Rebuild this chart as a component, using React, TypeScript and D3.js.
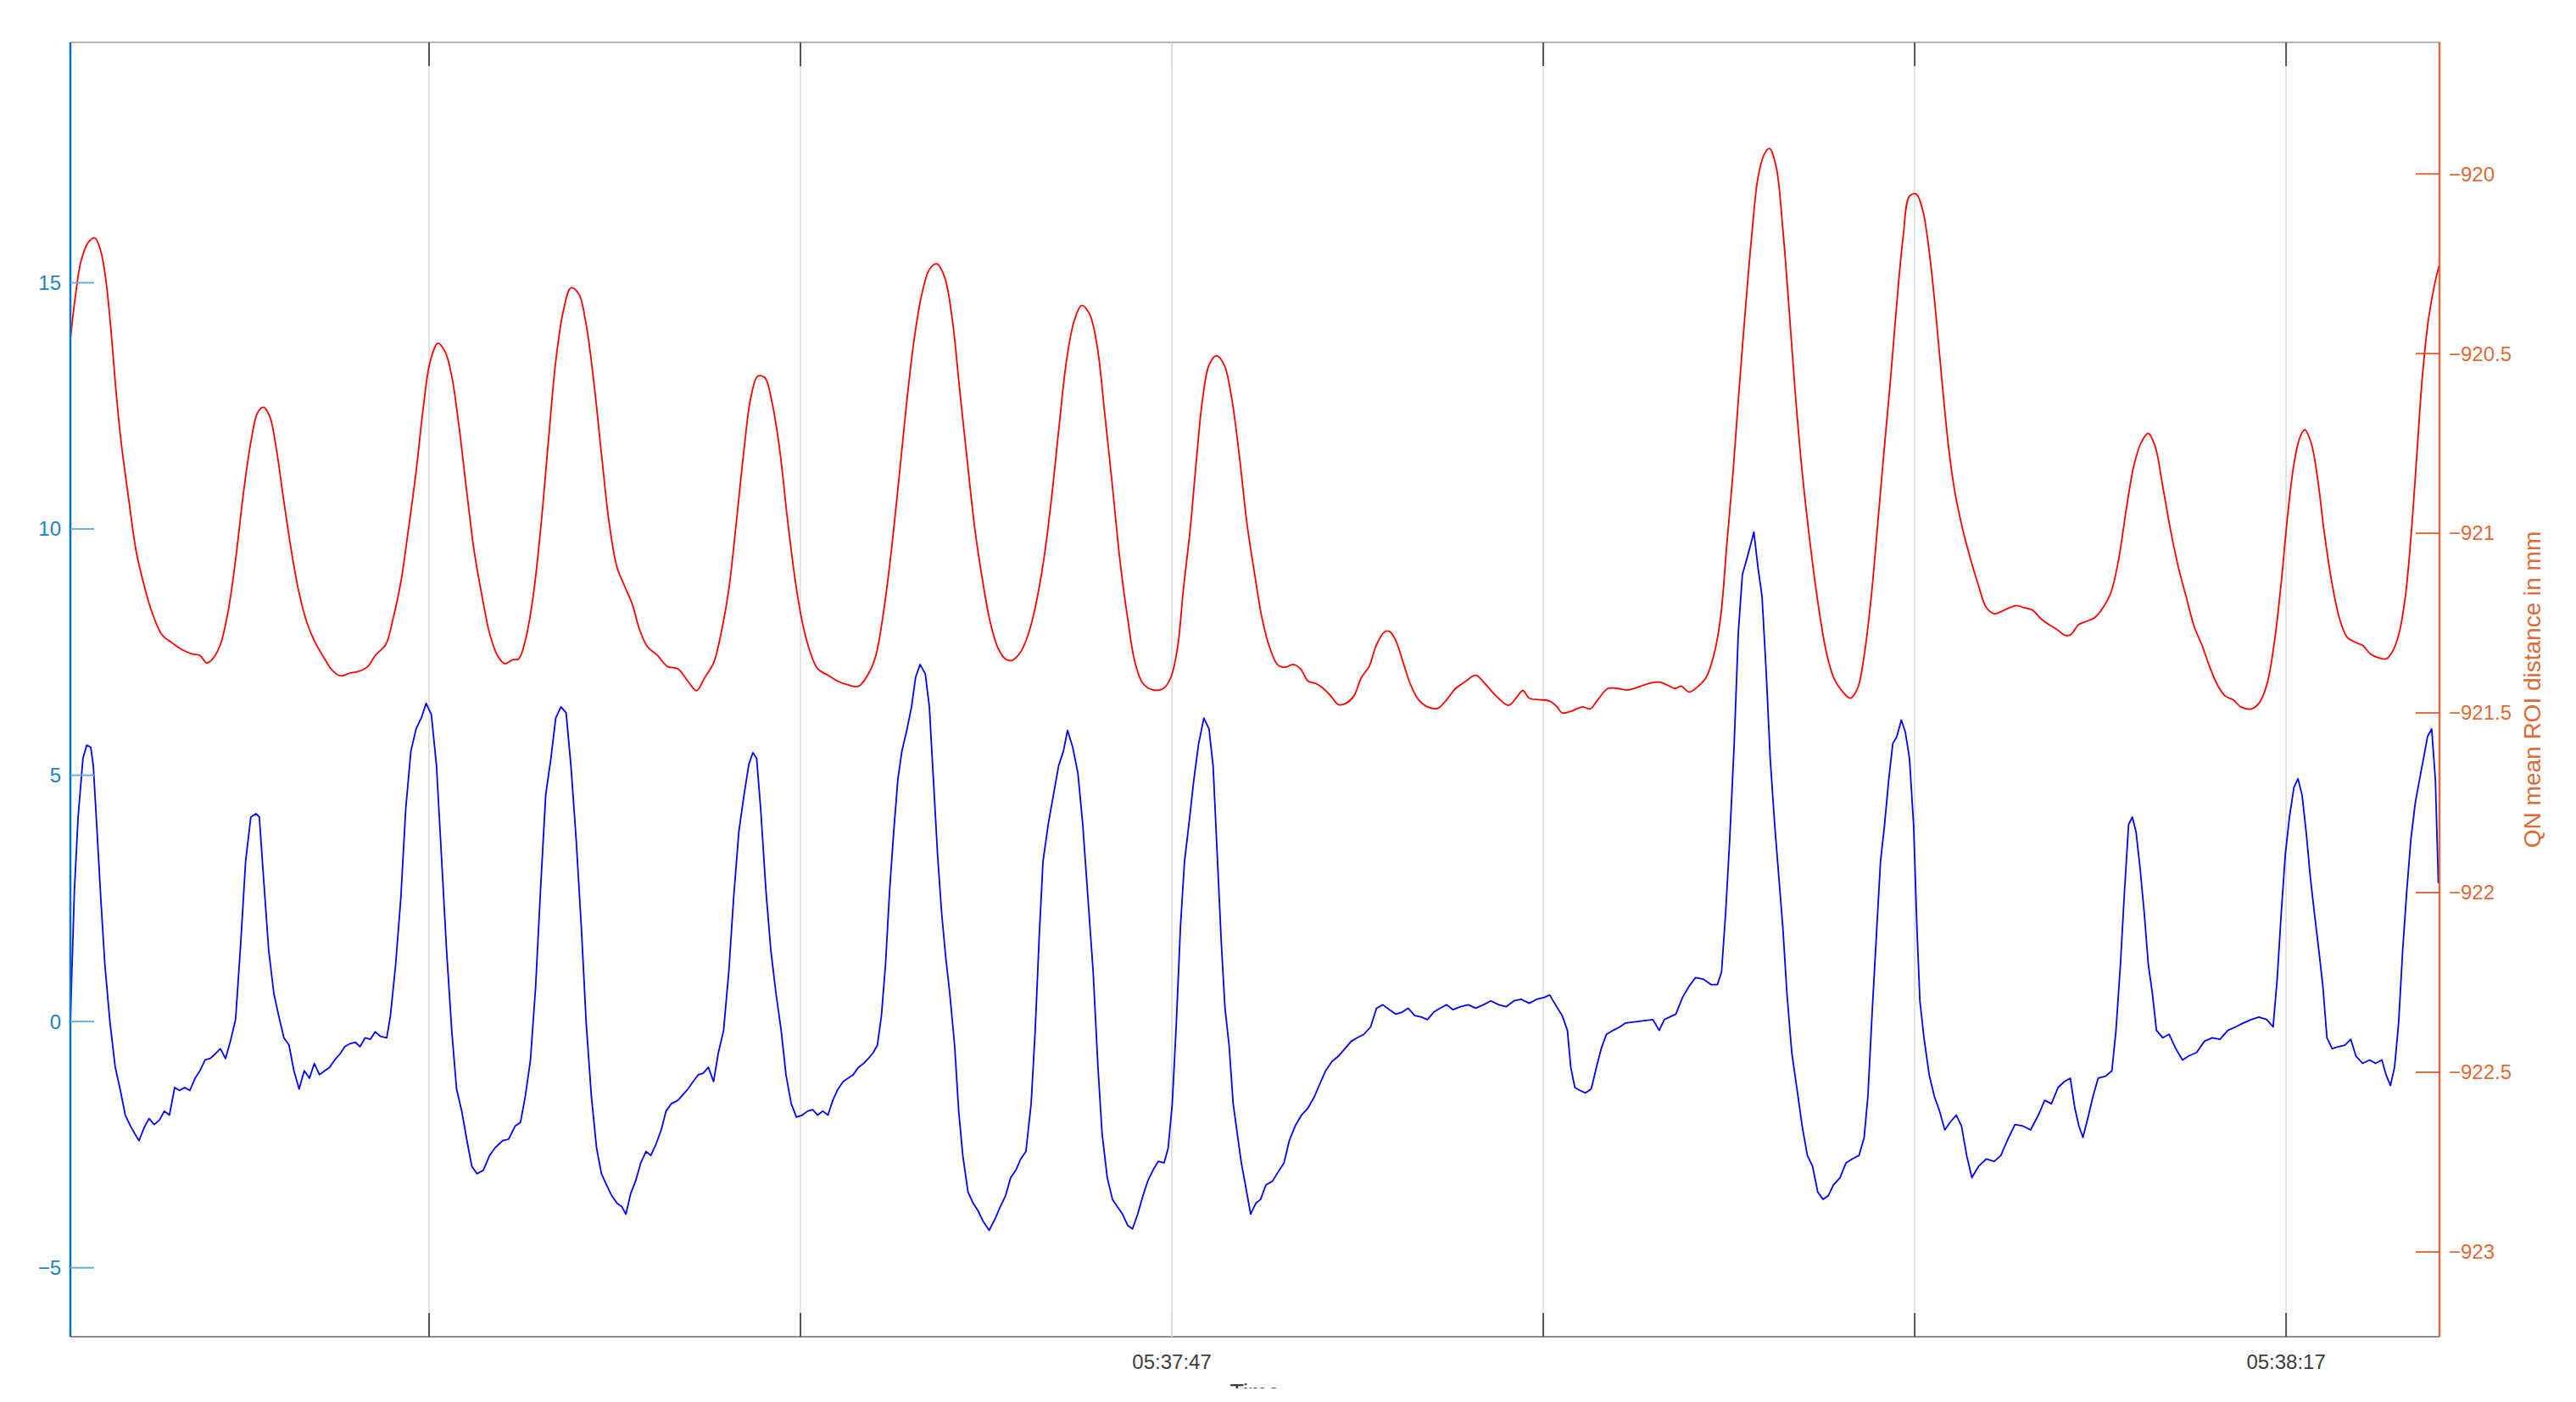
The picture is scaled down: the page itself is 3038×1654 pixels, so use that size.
import React from "react";
import * as d3 from "d3";

// time in seconds after 05:37:17
const BASE_TIME = new Date(2000, 0, 1, 5, 37, 17).getTime();
const xDomainSeconds = [0.342, 64.13];
const leftDomain = [-6.4, 19.88];
const rightDomain = [-923.236, -919.634];
const leftTicks = [-5, 0, 5, 10, 15];
const rightTicks = [-923, -922.5, -922, -921.5, -921, -920.5, -920];
const xTickSeconds = [10, 20, 30, 40, 50, 60];
const xTickLabels = ["", "", "05:37:47", "", "", "05:38:17"];
const rightAxisLabel = "QN mean ROI distance in mm";
const xAxisLabel = "Time";

// red series (right axis): [seconds, mm]
const redSeries: [number, number][] = [
  [0.34, -920.461], [0.48, -920.338], [0.62, -920.246], [0.82, -920.191], [1.0, -920.178],
  [1.16, -920.215], [1.3, -920.297], [1.44, -920.44], [1.57, -920.604], [1.71, -920.747],
  [1.92, -920.911], [2.12, -921.054], [2.33, -921.146], [2.53, -921.217], [2.81, -921.283],
  [3.08, -921.305], [3.35, -921.324], [3.63, -921.336], [3.83, -921.34], [4.01, -921.361],
  [4.17, -921.35], [4.38, -921.31], [4.59, -921.217], [4.79, -921.074], [5.0, -920.89],
  [5.2, -920.747], [5.38, -920.665], [5.54, -920.649], [5.71, -920.675], [5.89, -920.767],
  [6.09, -920.911], [6.3, -921.054], [6.5, -921.166], [6.71, -921.248], [6.91, -921.299],
  [7.19, -921.35], [7.39, -921.381], [7.62, -921.397], [7.87, -921.389], [8.08, -921.385],
  [8.35, -921.371], [8.55, -921.34], [8.83, -921.31], [9.03, -921.238], [9.24, -921.136],
  [9.44, -920.992], [9.65, -920.829], [9.85, -920.645], [10.03, -920.522], [10.24, -920.471],
  [10.44, -920.497], [10.61, -920.563], [10.81, -920.706], [11.02, -920.89], [11.22, -921.054],
  [11.43, -921.177], [11.63, -921.279], [11.84, -921.34], [12.04, -921.363], [12.25, -921.352],
  [12.41, -921.35], [12.59, -921.299], [12.8, -921.177], [13.0, -920.992], [13.21, -920.747],
  [13.41, -920.522], [13.62, -920.379], [13.82, -920.317], [14.03, -920.334], [14.23, -920.42],
  [14.44, -920.583], [14.65, -920.788], [14.85, -920.972], [15.06, -921.095], [15.26, -921.146],
  [15.47, -921.197], [15.67, -921.269], [15.88, -921.316], [16.15, -921.34], [16.42, -921.371],
  [16.7, -921.377], [16.97, -921.412], [17.2, -921.438], [17.42, -921.402], [17.66, -921.361],
  [17.86, -921.279], [18.07, -921.156], [18.27, -920.972], [18.48, -920.767], [18.66, -920.624],
  [18.85, -920.563], [19.04, -920.567], [19.23, -920.634], [19.44, -920.767], [19.64, -920.952],
  [19.85, -921.125], [20.05, -921.248], [20.26, -921.33], [20.46, -921.377], [20.74, -921.395],
  [21.01, -921.412], [21.28, -921.422], [21.56, -921.426], [21.83, -921.391], [22.03, -921.34],
  [22.24, -921.217], [22.44, -921.054], [22.65, -920.849], [22.85, -920.645], [23.06, -920.461],
  [23.26, -920.338], [23.47, -920.266], [23.67, -920.25], [23.88, -920.287], [24.08, -920.399],
  [24.29, -920.604], [24.5, -920.808], [24.7, -920.992], [24.91, -921.136], [25.11, -921.248],
  [25.32, -921.32], [25.52, -921.35], [25.69, -921.354], [25.93, -921.33], [26.14, -921.279],
  [26.34, -921.197], [26.55, -921.074], [26.75, -920.911], [26.96, -920.706], [27.16, -920.522],
  [27.37, -920.409], [27.57, -920.366], [27.78, -920.389], [27.99, -920.481], [28.19, -920.665],
  [28.4, -920.87], [28.6, -921.074], [28.81, -921.238], [29.01, -921.361], [29.22, -921.418],
  [29.49, -921.436], [29.77, -921.432], [29.97, -921.402], [30.15, -921.32], [30.31, -921.156],
  [30.49, -920.992], [30.65, -920.808], [30.83, -920.624], [31.0, -920.532], [31.2, -920.506],
  [31.41, -920.532], [31.61, -920.624], [31.82, -920.788], [32.02, -920.972], [32.23, -921.115],
  [32.43, -921.238], [32.64, -921.32], [32.84, -921.365], [33.05, -921.373], [33.26, -921.365],
  [33.46, -921.377], [33.67, -921.412], [33.87, -921.418], [34.08, -921.432], [34.28, -921.453],
  [34.49, -921.477], [34.69, -921.473], [34.9, -921.453], [35.1, -921.402], [35.31, -921.371],
  [35.51, -921.31], [35.72, -921.275], [35.86, -921.273], [36.03, -921.299], [36.23, -921.361],
  [36.43, -921.422], [36.64, -921.463], [36.88, -921.483], [37.16, -921.487], [37.4, -921.463],
  [37.64, -921.432], [37.91, -921.412], [38.18, -921.395], [38.46, -921.422], [38.73, -921.453],
  [39.07, -921.479], [39.28, -921.457], [39.45, -921.438], [39.62, -921.459], [39.89, -921.463],
  [40.17, -921.467], [40.37, -921.483], [40.51, -921.5], [40.78, -921.494], [41.06, -921.483],
  [41.26, -921.489], [41.47, -921.463], [41.74, -921.432], [42.01, -921.432], [42.29, -921.436],
  [42.84, -921.418], [43.12, -921.414], [43.33, -921.422], [43.54, -921.432], [43.71, -921.426],
  [43.93, -921.442], [44.17, -921.426], [44.38, -921.402], [44.59, -921.34], [44.77, -921.238],
  [44.94, -921.033], [45.11, -920.829], [45.27, -920.604], [45.44, -920.379], [45.61, -920.174],
  [45.78, -920.011], [45.95, -919.945], [46.09, -919.929], [46.27, -919.98], [46.45, -920.154],
  [46.62, -920.379], [46.78, -920.604], [46.95, -920.808], [47.12, -920.972], [47.29, -921.115],
  [47.46, -921.238], [47.64, -921.34], [47.82, -921.402], [48.02, -921.436], [48.27, -921.459],
  [48.46, -921.432], [48.64, -921.34], [48.83, -921.177], [48.99, -920.992], [49.16, -920.788],
  [49.34, -920.583], [49.52, -920.358], [49.69, -920.174], [49.86, -920.062], [50.04, -920.056],
  [50.22, -920.103], [50.39, -920.215], [50.56, -920.379], [50.74, -920.583], [50.92, -920.767],
  [51.09, -920.89], [51.3, -920.992], [51.51, -921.074], [51.72, -921.146], [51.93, -921.207],
  [52.14, -921.224], [52.35, -921.217], [52.56, -921.207], [52.74, -921.201], [52.94, -921.207],
  [53.16, -921.213], [53.4, -921.238], [53.61, -921.254], [53.82, -921.267], [54.03, -921.283],
  [54.19, -921.283], [54.42, -921.254], [54.66, -921.244], [54.86, -921.234], [55.07, -921.207],
  [55.28, -921.166], [55.49, -921.074], [55.7, -920.931], [55.91, -920.808], [56.12, -920.743],
  [56.29, -920.722], [56.47, -920.757], [56.68, -920.87], [56.89, -920.992], [57.1, -921.095],
  [57.31, -921.177], [57.52, -921.258], [57.73, -921.31], [57.94, -921.371], [58.15, -921.422],
  [58.36, -921.453], [58.57, -921.463], [58.78, -921.483], [59.06, -921.489], [59.27, -921.473],
  [59.48, -921.422], [59.69, -921.299], [59.87, -921.136], [60.04, -920.952], [60.21, -920.808],
  [60.36, -920.737], [60.5, -920.712], [60.67, -920.747], [60.85, -920.849], [61.02, -920.992],
  [61.23, -921.136], [61.44, -921.238], [61.64, -921.289], [61.85, -921.303], [62.06, -921.312],
  [62.27, -921.336], [62.48, -921.346], [62.69, -921.35], [62.86, -921.33], [63.04, -921.279],
  [63.21, -921.177], [63.36, -921.013], [63.53, -920.767], [63.67, -920.563], [63.84, -920.399],
  [64.02, -920.297], [64.12, -920.256],
];

// blue series (left axis): [seconds, value]
const blueSeries: [number, number][] = [
  [0.34, -0.03], [0.45, 2.66], [0.55, 4.15], [0.68, 5.34], [0.78, 5.61], [0.89, 5.57],
  [0.96, 5.19], [1.05, 4.0], [1.16, 2.51], [1.27, 1.16], [1.41, -0.03], [1.55, -0.93],
  [1.68, -1.37], [1.82, -1.9], [1.96, -2.12], [2.07, -2.27], [2.19, -2.42], [2.33, -2.15],
  [2.46, -1.97], [2.6, -2.09], [2.74, -2.0], [2.87, -1.82], [3.01, -1.9], [3.15, -1.34],
  [3.28, -1.4], [3.42, -1.34], [3.56, -1.4], [3.7, -1.15], [3.83, -1.0], [3.97, -0.78],
  [4.11, -0.75], [4.24, -0.66], [4.38, -0.55], [4.52, -0.75], [4.65, -0.4], [4.79, 0.04],
  [4.93, 1.61], [5.06, 3.25], [5.2, 4.15], [5.34, 4.22], [5.43, 4.15], [5.54, 2.95],
  [5.68, 1.46], [5.82, 0.57], [5.95, 0.12], [6.09, -0.33], [6.23, -0.48], [6.36, -1.0],
  [6.5, -1.37], [6.64, -1.0], [6.78, -1.15], [6.91, -0.85], [7.05, -1.08], [7.19, -1.0],
  [7.32, -0.93], [7.46, -0.78], [7.6, -0.66], [7.73, -0.51], [7.87, -0.45], [8.01, -0.42],
  [8.14, -0.51], [8.28, -0.33], [8.42, -0.36], [8.55, -0.21], [8.69, -0.3], [8.86, -0.33],
  [8.96, 0.12], [9.1, 1.16], [9.24, 2.51], [9.37, 4.3], [9.51, 5.49], [9.65, 5.94],
  [9.79, 6.16], [9.92, 6.46], [10.06, 6.24], [10.2, 5.19], [10.33, 3.4], [10.47, 1.46],
  [10.61, -0.18], [10.74, -1.37], [10.88, -1.82], [11.02, -2.42], [11.15, -2.94], [11.29, -3.09],
  [11.46, -3.02], [11.63, -2.72], [11.77, -2.57], [11.98, -2.42], [12.14, -2.39], [12.32, -2.12],
  [12.46, -2.05], [12.59, -1.52], [12.73, -0.78], [12.87, 0.72], [13.0, 2.66], [13.14, 4.6],
  [13.28, 5.34], [13.41, 6.16], [13.55, 6.39], [13.69, 6.27], [13.82, 5.19], [13.96, 3.7],
  [14.1, 1.91], [14.23, -0.03], [14.37, -1.52], [14.51, -2.57], [14.64, -3.09], [14.78, -3.32],
  [14.92, -3.54], [15.06, -3.69], [15.19, -3.76], [15.3, -3.91], [15.43, -3.49], [15.56, -3.24],
  [15.7, -2.87], [15.84, -2.64], [15.97, -2.72], [16.11, -2.49], [16.25, -2.2], [16.38, -1.82],
  [16.52, -1.67], [16.7, -1.6], [16.83, -1.49], [16.97, -1.37], [17.11, -1.22], [17.25, -1.08],
  [17.38, -1.05], [17.52, -0.93], [17.66, -1.22], [17.79, -0.63], [17.93, -0.18], [18.07, 1.01],
  [18.2, 2.51], [18.34, 3.85], [18.48, 4.6], [18.61, 5.22], [18.72, 5.46], [18.82, 5.34],
  [18.93, 4.3], [19.07, 2.66], [19.2, 1.46], [19.34, 0.57], [19.48, -0.18], [19.61, -1.08],
  [19.75, -1.67], [19.89, -1.94], [20.05, -1.9], [20.19, -1.82], [20.33, -1.79], [20.46, -1.9],
  [20.6, -1.82], [20.74, -1.9], [20.87, -1.6], [21.01, -1.37], [21.15, -1.22], [21.28, -1.15],
  [21.42, -1.08], [21.56, -0.93], [21.7, -0.85], [21.83, -0.75], [21.96, -0.63], [22.07, -0.48],
  [22.18, 0.12], [22.29, 1.16], [22.4, 2.66], [22.51, 3.85], [22.62, 4.9], [22.73, 5.49],
  [22.87, 5.94], [22.99, 6.39], [23.1, 6.99], [23.22, 7.25], [23.36, 7.06], [23.47, 6.39],
  [23.58, 4.9], [23.69, 3.4], [23.8, 2.21], [23.91, 1.31], [24.02, 0.57], [24.15, -0.48],
  [24.26, -1.82], [24.37, -2.72], [24.51, -3.46], [24.65, -3.69], [24.78, -3.84], [24.92, -4.06],
  [25.08, -4.24], [25.25, -3.99], [25.38, -3.76], [25.52, -3.54], [25.66, -3.17], [25.8, -3.02],
  [25.93, -2.79], [26.07, -2.64], [26.21, -1.67], [26.32, -0.18], [26.43, 1.76], [26.53, 3.25],
  [26.67, 4.0], [26.81, 4.6], [26.95, 5.19], [27.08, 5.49], [27.19, 5.91], [27.33, 5.57],
  [27.47, 5.04], [27.6, 4.0], [27.74, 2.51], [27.88, 1.01], [28.01, -0.93], [28.12, -2.27],
  [28.26, -3.17], [28.4, -3.61], [28.53, -3.76], [28.67, -3.91], [28.81, -4.14], [28.94, -4.21],
  [29.08, -3.91], [29.22, -3.54], [29.35, -3.24], [29.49, -3.02], [29.63, -2.84], [29.79, -2.87],
  [29.9, -2.57], [30.01, -1.67], [30.12, -0.03], [30.23, 1.91], [30.34, 3.25], [30.48, 4.15],
  [30.59, 4.9], [30.72, 5.64], [30.86, 6.16], [31.0, 5.94], [31.11, 5.19], [31.22, 3.4],
  [31.33, 1.61], [31.43, 0.27], [31.54, -0.48], [31.65, -1.67], [31.76, -2.27], [31.87, -2.87],
  [31.98, -3.32], [32.12, -3.91], [32.26, -3.69], [32.39, -3.61], [32.53, -3.32], [32.71, -3.24],
  [32.89, -3.02], [33.02, -2.87], [33.16, -2.42], [33.32, -2.12], [33.49, -1.9], [33.67, -1.75],
  [33.84, -1.52], [34.01, -1.22], [34.14, -1.0], [34.31, -0.81], [34.49, -0.7], [34.66, -0.55],
  [34.83, -0.4], [34.99, -0.33], [35.17, -0.26], [35.35, -0.11], [35.51, 0.27], [35.68, 0.34],
  [35.86, 0.24], [36.03, 0.15], [36.2, 0.19], [36.36, 0.27], [36.54, 0.12], [36.72, 0.09],
  [36.88, 0.04], [37.05, 0.19], [37.22, 0.27], [37.4, 0.34], [37.57, 0.24], [37.77, 0.3],
  [37.98, 0.34], [38.18, 0.27], [38.39, 0.34], [38.59, 0.42], [38.8, 0.34], [39.0, 0.3],
  [39.21, 0.42], [39.41, 0.45], [39.62, 0.37], [39.82, 0.45], [40.03, 0.49], [40.17, 0.54],
  [40.33, 0.34], [40.51, 0.12], [40.65, -0.18], [40.74, -0.93], [40.85, -1.34], [40.99, -1.4],
  [41.13, -1.45], [41.29, -1.37], [41.43, -0.93], [41.56, -0.55], [41.7, -0.26], [41.88, -0.18],
  [42.06, -0.11], [42.22, -0.03], [42.95, 0.04], [43.12, -0.18], [43.26, 0.04], [43.4, 0.09],
  [43.57, 0.15], [43.75, 0.49], [43.93, 0.72], [44.1, 0.89], [44.31, 0.86], [44.52, 0.75],
  [44.69, 0.75], [44.8, 1.01], [44.91, 2.21], [45.02, 3.7], [45.14, 5.64], [45.25, 7.88],
  [45.36, 9.07], [45.47, 9.37], [45.58, 9.67], [45.67, 9.94], [45.78, 9.22], [45.89, 8.63],
  [46.0, 7.13], [46.11, 5.34], [46.23, 4.0], [46.34, 2.95], [46.45, 1.91], [46.56, 0.57],
  [46.69, -0.63], [46.83, -1.37], [46.97, -2.12], [47.11, -2.72], [47.25, -2.94], [47.39, -3.46],
  [47.53, -3.61], [47.67, -3.54], [47.81, -3.32], [47.99, -3.17], [48.15, -2.87], [48.32, -2.79],
  [48.5, -2.72], [48.64, -2.35], [48.74, -1.52], [48.85, 0.12], [48.97, 1.76], [49.08, 3.25],
  [49.19, 4.0], [49.3, 4.9], [49.41, 5.64], [49.52, 5.79], [49.64, 6.12], [49.75, 5.87],
  [49.86, 5.34], [49.97, 4.0], [50.06, 1.91], [50.14, 0.42], [50.25, -0.33], [50.39, -1.08],
  [50.53, -1.52], [50.67, -1.82], [50.81, -2.2], [50.95, -2.05], [51.12, -1.9], [51.26, -2.12],
  [51.4, -2.72], [51.54, -3.17], [51.72, -2.94], [51.93, -2.79], [52.14, -2.84], [52.32, -2.72],
  [52.49, -2.42], [52.7, -2.09], [52.91, -2.12], [53.12, -2.2], [53.33, -1.9], [53.5, -1.6],
  [53.68, -1.67], [53.86, -1.34], [54.03, -1.22], [54.19, -1.15], [54.31, -1.75], [54.42, -2.12],
  [54.53, -2.35], [54.66, -1.97], [54.8, -1.52], [54.94, -1.15], [55.14, -1.11], [55.31, -1.0],
  [55.42, -0.18], [55.54, 1.16], [55.65, 2.66], [55.76, 4.0], [55.86, 4.15], [55.96, 3.85],
  [56.07, 3.1], [56.18, 2.21], [56.29, 1.16], [56.4, 0.57], [56.51, -0.18], [56.68, -0.33],
  [56.85, -0.26], [57.03, -0.55], [57.21, -0.78], [57.38, -0.7], [57.59, -0.63], [57.8, -0.4],
  [58.01, -0.33], [58.22, -0.36], [58.43, -0.18], [58.64, -0.11], [58.85, -0.03], [59.06, 0.04],
  [59.27, 0.09], [59.48, 0.04], [59.65, -0.11], [59.76, 0.86], [59.87, 2.21], [59.98, 3.4],
  [60.09, 4.15], [60.21, 4.75], [60.32, 4.93], [60.43, 4.6], [60.54, 3.85], [60.65, 2.95],
  [60.76, 2.21], [60.88, 1.46], [60.99, 0.72], [61.1, -0.33], [61.24, -0.55], [61.41, -0.51],
  [61.58, -0.48], [61.74, -0.36], [61.88, -0.7], [62.06, -0.85], [62.25, -0.78], [62.41, -0.85],
  [62.58, -0.78], [62.69, -1.08], [62.81, -1.3], [62.92, -0.93], [63.03, -0.03], [63.14, 1.46],
  [63.25, 2.66], [63.36, 3.7], [63.48, 4.45], [63.59, 4.9], [63.7, 5.34], [63.81, 5.79],
  [63.92, 5.94], [64.02, 4.9], [64.1, 2.81],
];

const WIDTH = 3038;
const HEIGHT = 1654;
const PLOT = { left: 83, right: 2877, top: 50, bottom: 1577 };
const FONT = "'Liberation Sans', Arial, Helvetica, sans-serif";
const BLUE_AXIS = "#0072BD";
const ORANGE_AXIS = "#D95319";

const toDate = (s: number) => new Date(BASE_TIME + s * 1000);

export default function App() {
  const x = d3
    .scaleTime()
    .domain([toDate(xDomainSeconds[0]), toDate(xDomainSeconds[1])])
    .range([PLOT.left, PLOT.right]);
  const yL = d3.scaleLinear().domain(leftDomain).range([PLOT.bottom, PLOT.top]);
  const yR = d3.scaleLinear().domain(rightDomain).range([PLOT.bottom, PLOT.top]);

  const redLine = d3
    .line<[number, number]>()
    .x((d) => x(toDate(d[0])))
    .y((d) => yR(d[1]))
    .curve(d3.curveCatmullRom.alpha(0.5));
  const blueLine = d3
    .line<[number, number]>()
    .x((d) => x(toDate(d[0])))
    .y((d) => yL(d[1]));

  const fmt = d3.format("");
  const tickLen = 28;

  return (
    <svg
      width={WIDTH}
      height={HEIGHT}
      style={{ position: "absolute", left: 0, top: 0, display: "block", background: "#fff" }}
      fontFamily={FONT}
    >
      <defs>
        <clipPath id="plotClip">
          <rect x={PLOT.left} y={PLOT.top} width={PLOT.right - PLOT.left} height={PLOT.bottom - PLOT.top} />
        </clipPath>
        <clipPath id="labelClip">
          <rect x={0} y={0} width={WIDTH} height={1638} />
        </clipPath>
      </defs>
      <rect x={0} y={0} width={WIDTH} height={HEIGHT} fill="#fff" />

      {/* vertical grid */}
      {xTickSeconds.map((s, i) => (
        <line
          key={"g" + i}
          x1={x(toDate(s))}
          x2={x(toDate(s))}
          y1={PLOT.top}
          y2={PLOT.bottom}
          stroke="#e3e3e3"
          strokeWidth={2}
        />
      ))}

      {/* data lines */}
      <g clipPath="url(#plotClip)">
        <path d={redLine(redSeries) || ""} fill="none" stroke="#ff0000" strokeWidth={1.8} strokeLinejoin="round" />
        <path d={blueLine(blueSeries) || ""} fill="none" stroke="#0000ff" strokeWidth={1.8} strokeLinejoin="round" />
      </g>

      {/* frame top and bottom */}
      <line x1={PLOT.left} x2={PLOT.right} y1={PLOT.top} y2={PLOT.top} stroke="#b4b4b4" strokeWidth={2} />
      <line x1={PLOT.left} x2={PLOT.right} y1={PLOT.bottom} y2={PLOT.bottom} stroke="#8c8c8c" strokeWidth={2} />

      {/* x ticks */}
      {xTickSeconds.map((s, i) => {
        const px = x(toDate(s));
        const tickColor = i === 2 ? "#dcdcdc" : "#555";
        return (
          <g key={"xt" + i}>
            <line x1={px} x2={px} y1={PLOT.bottom} y2={PLOT.bottom - tickLen} stroke={tickColor} strokeWidth={2} />
            <line x1={px} x2={px} y1={PLOT.top} y2={PLOT.top + tickLen} stroke={tickColor} strokeWidth={2} />
            {xTickLabels[i] ? (
              <text x={px} y={1615} textAnchor="middle" fontSize={24} fill="#3c3c3c">
                {xTickLabels[i]}
              </text>
            ) : null}
          </g>
        );
      })}

      {/* left axis */}
      <line x1={PLOT.left} x2={PLOT.left} y1={PLOT.top} y2={PLOT.bottom} stroke={BLUE_AXIS} strokeWidth={2.5} />
      {leftTicks.map((v) => (
        <g key={"l" + v}>
          <line x1={PLOT.left} x2={PLOT.left + tickLen} y1={yL(v)} y2={yL(v)} stroke="#6aaddc" strokeWidth={2} />
          <text x={72} y={yL(v)} dy="0.35em" textAnchor="end" fontSize={24} fill="#2382c6">
            {fmt(v)}
          </text>
        </g>
      ))}

      {/* right axis */}
      <line x1={PLOT.right} x2={PLOT.right} y1={PLOT.top} y2={PLOT.bottom} stroke={ORANGE_AXIS} strokeWidth={2.5} opacity={0.85} />
      {rightTicks.map((v) => (
        <g key={"r" + v}>
          <line x1={PLOT.right - tickLen} x2={PLOT.right} y1={yR(v)} y2={yR(v)} stroke={ORANGE_AXIS} strokeWidth={2} opacity={0.85} />
          <text x={2888} y={yR(v)} dy="0.35em" textAnchor="start" fontSize={24} fill="#e06a35">
            {fmt(v)}
          </text>
        </g>
      ))}
      <text
        transform={`translate(2996, ${(PLOT.top + PLOT.bottom) / 2}) rotate(-90)`}
        textAnchor="middle"
        fontSize={28}
        fill="#e06a35"
      >
        {rightAxisLabel}
      </text>

      {/* x axis label, cut off at the bottom as in the source */}
      <g clipPath="url(#labelClip)">
        <text x={(PLOT.left + PLOT.right) / 2} y={1652} textAnchor="middle" fontSize={27} fill="#3c3c3c">
          {xAxisLabel}
        </text>
      </g>
    </svg>
  );
}
